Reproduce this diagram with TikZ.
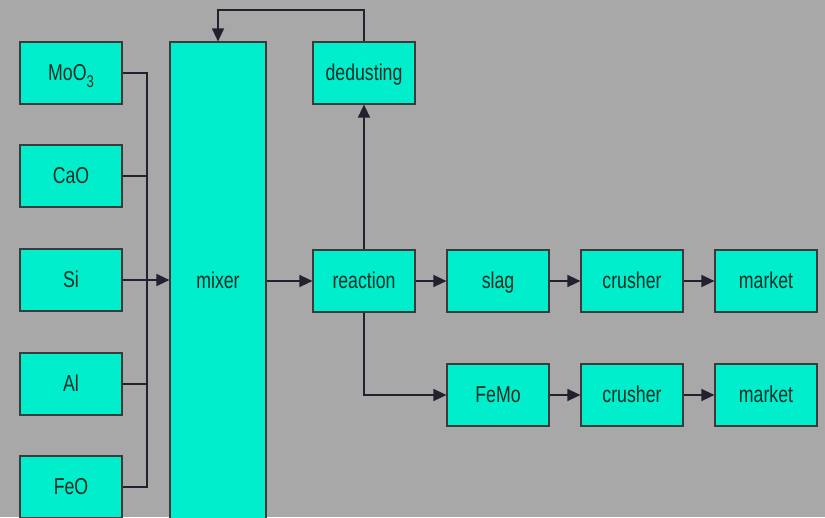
\documentclass[tikz,border=0pt]{standalone}
\usepackage{fontspec}
\setmainfont{Liberation Sans}[FakeStretch=0.77]
\usetikzlibrary{arrows.meta}
\definecolor{bgcol}{HTML}{A8A8A8}
\definecolor{boxcol}{HTML}{00EECC}
\definecolor{edgecol}{HTML}{3A3A3A}
\definecolor{linecol}{HTML}{22222E}
\definecolor{txtcol}{HTML}{0C2E24}
\tikzset{
  box/.style={draw=edgecol, fill=boxcol, line width=1.2pt, inner sep=0pt,
    minimum width=102pt, minimum height=62pt, text=txtcol,
    text height=16pt, text depth=2pt,
    font=\fontsize{23}{23}\selectfont},
  wire/.style={draw=linecol, line width=1.3pt},
  arr/.style={wire, -{Triangle[length=13pt,width=12pt]}}
}
\begin{document}
\begin{tikzpicture}[x=1pt,y=-1pt]
\useasboundingbox (0,0) rectangle (825,517);
\fill[bgcol] (0,0) rectangle (825,517);
\clip (0,0) rectangle (825,517);

% raw materials
\node[box] (moo) at (71,73)  {MoO\raisebox{-0.6ex}{\fontsize{17}{17}\selectfont 3}};
\node[box] (cao) at (71,176) {CaO};
\node[box] (si)  at (71,280) {Si};
\node[box] (al)  at (71,384) {Al};
\node[box] (feo) at (71,487) {FeO};

% mixer column
\node[box, minimum width=96pt, minimum height=478pt] (mixer) at (218,281) {mixer};

% process chain
\node[box] (reaction)  at (364,281) {reaction};
\node[box] (dedusting) at (364,73)  {dedusting};
\node[box] (slag)      at (498,281) {slag};
\node[box] (crushA)    at (632,281) {crusher};
\node[box] (marketA)   at (766,281) {market};
\node[box] (femo)      at (498,395) {FeMo};
\node[box] (crushB)    at (632,395) {crusher};
\node[box] (marketB)   at (766,395) {market};

% feed bus into the mixer
\coordinate (busT) at (147,73);
\coordinate (busB) at (147,487);
\draw[wire] (moo.east) -- (busT) -- (busB) -- (feo.east);
\draw[wire] (cao.east) -- (cao.east -| busT);
\draw[wire] (al.east) -- (al.east -| busT);
\draw[arr] (si.east) -- (mixer.west |- si.east);

% main flow
\draw[arr] (mixer.east |- reaction.west) -- (reaction.west);
\draw[arr] (reaction.north) -- (dedusting.south);
\coordinate (ret) at (218,10);
\draw[arr] (dedusting.north) |- (ret) -- (mixer.north);
\draw[arr] (reaction.east) -- (slag.west);
\draw[arr] (slag.east) -- (crushA.west);
\draw[arr] (crushA.east) -- (marketA.west);
\draw[arr] (reaction.south) |- (femo.west);
\draw[arr] (femo.east) -- (crushB.west);
\draw[arr] (crushB.east) -- (marketB.west);
\end{tikzpicture}
\end{document}
